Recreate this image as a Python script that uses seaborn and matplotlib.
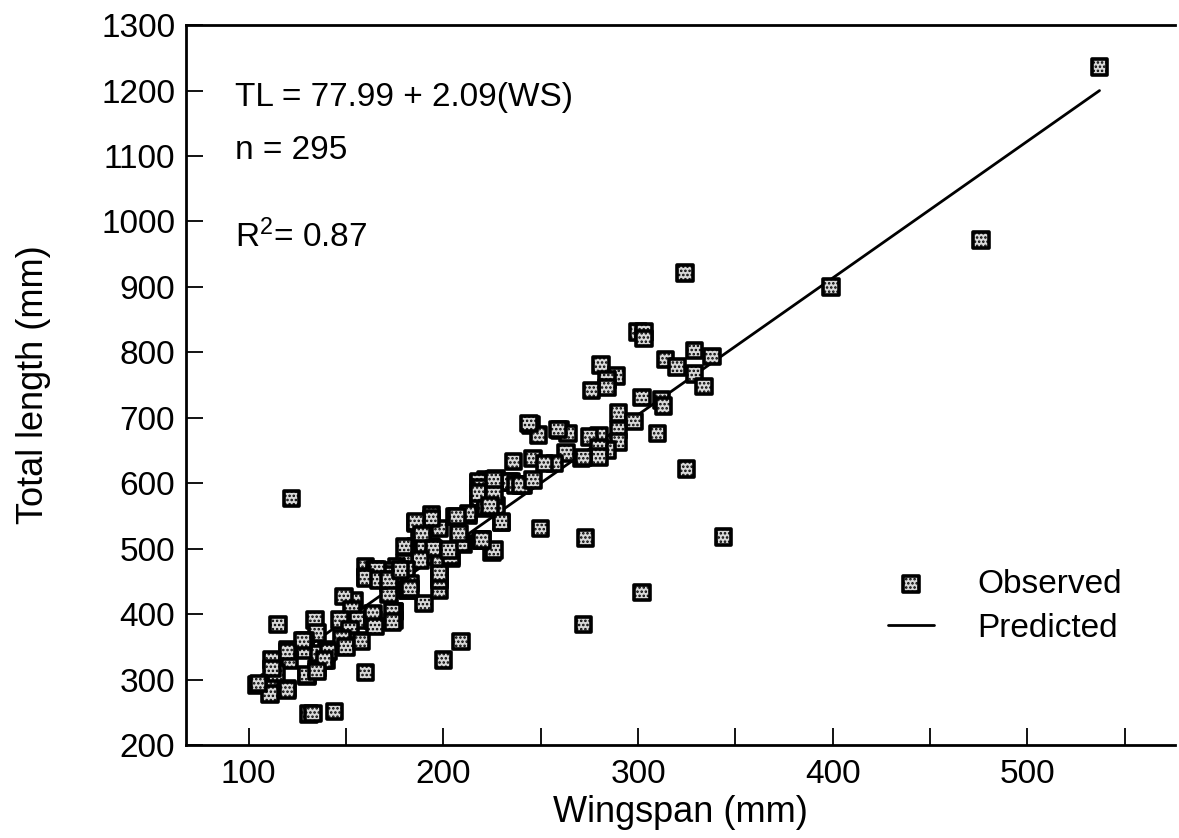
import matplotlib
matplotlib.use("Agg")
import matplotlib.pyplot as plt
from matplotlib.ticker import MultipleLocator
import pandas as pd
import seaborn as sns

## Observed wingspan / total length pairs (mm)
wingspan = [
    122, 115, 104, 111, 111, 120, 131, 144, 160, 130, 135, 140, 190, 209, 200, 175, 175, 182, 198, 198,
    190, 186, 194, 204, 210, 225, 220, 230, 236, 246, 245, 186, 188, 194, 194, 198, 206, 213, 218, 218,
    222, 227, 235, 222, 227, 160, 160, 165, 170, 154, 149, 153, 147, 156, 164, 152, 156, 148, 140, 134,
    135, 129, 129, 120, 121, 112, 114, 140, 136,
    300, 303, 303, 281, 289, 284, 284, 276, 314, 320, 329, 338, 329, 334, 302, 312, 313, 290, 298, 290,
    290, 284, 280, 275, 280, 280, 271, 263, 260, 264, 259, 249, 244, 257, 252, 310, 325, 344, 273, 250,
    302, 230, 226, 219, 234, 237, 241, 218, 219, 218, 222, 213, 207, 194, 186, 181, 194, 198, 204, 209,
    189, 198, 182,
    324, 399, 476, 537, 272, 272, 240, 246,
    226, 218, 226, 224, 208, 189, 220, 180, 190, 195, 203, 188, 180, 176, 181, 172, 170, 198, 183, 172,
    175, 172,
    166, 160, 167, 172, 178, 183, 164, 174, 174, 165, 150, 158, 141, 139, 128, 120, 112, 105, 120, 130,
    135, 133,
]
total_length = [
    577, 384, 292, 295, 278, 286, 247, 251, 311, 305, 317, 330, 416, 358, 330, 391, 404, 437, 437, 455,
    488, 503, 503, 485, 507, 494, 513, 540, 633, 638, 689, 539, 518, 544, 552, 531, 549, 551, 569, 600,
    605, 607, 602, 562, 565, 472, 457, 467, 460, 421, 427, 406, 391, 391, 391, 376, 360, 363, 345, 391,
    371, 360, 345, 345, 330, 330, 310, 340, 340,
    831, 831, 821, 781, 764, 758, 746, 742, 789, 778, 803, 794, 767, 748, 731, 727, 718, 707, 694, 681,
    663, 651, 672, 671, 654, 640, 638, 646, 681, 676, 682, 674, 691, 630, 630, 676, 622, 518, 516, 531,
    433, 541, 498, 513, 602, 597, 597, 602, 593, 577, 564, 554, 549, 546, 541, 500, 500, 478, 488, 508,
    517, 452, 437,
    921, 900, 972, 1236, 384, 639, 597, 605,
    605, 585, 582, 565, 523, 521, 513, 503, 500, 500, 498, 483, 478, 472, 467, 466, 460, 462, 447, 447,
    404, 430,
    467, 455, 452, 452, 467, 439, 401, 404, 388, 381, 350, 358, 343, 330, 360, 343, 317, 294, 284, 307,
    312, 248,
]
# predicted line endpoints (TL = 77.99 + 2.09(WS))
pred_ws = [104, 537]
pred_tl = [295, 1200]

obs = pd.DataFrame({"ws": wingspan, "tl": total_length})
pred = pd.DataFrame({"ws": pred_ws, "tl": pred_tl})

sns.set_theme(style="ticks")
plt.rcParams["font.family"] = ["Liberation Sans", "DejaVu Sans"]
plt.rcParams["mathtext.fontset"] = "custom"
plt.rcParams["mathtext.rm"] = "Liberation Sans"
plt.rcParams["mathtext.it"] = "Liberation Sans"
plt.rcParams["hatch.linewidth"] = 1.2
for key in ["text.color", "axes.labelcolor", "xtick.color", "ytick.color", "axes.edgecolor"]:
    plt.rcParams[key] = "black"

fig = plt.figure(figsize=(11.79, 8.38), dpi=100)
ax = fig.add_axes([0.158, 0.111, 0.839, 0.859])

sns.lineplot(data=pred, x="ws", y="tl", color="black", linewidth=2, ax=ax,
             label="Predicted", zorder=2)
sns.scatterplot(data=obs, x="ws", y="tl", marker="s", s=125, color="#d8d8d8",
                edgecolor="black", linewidth=2.6, hatch="....", ax=ax,
                label="Observed", zorder=3)

ax.set_xlim(68, 576)
ax.set_ylim(200, 1300)
ax.xaxis.set_major_locator(MultipleLocator(100))
ax.xaxis.set_minor_locator(MultipleLocator(50))
ax.yaxis.set_major_locator(MultipleLocator(100))
ax.tick_params(axis="both", which="both", direction="in", length=12, width=1.3,
               labelsize=24, pad=8)
ax.tick_params(axis="x", pad=10)
for side in ["left", "bottom", "top"]:
    ax.spines[side].set_linewidth(2)
ax.spines["right"].set_visible(False)

ax.set_xlabel("Wingspan (mm)", fontsize=26, labelpad=4)
ax.set_ylabel("Total length (mm)", fontsize=26, labelpad=36)

# regression annotation
ax.text(0.049, 0.899, "TL = 77.99 + 2.09(WS)", transform=ax.transAxes,
        fontsize=24, va="center")
ax.text(0.049, 0.826, "n = 295", transform=ax.transAxes, fontsize=24, va="center")
ax.text(0.049, 0.706, r"R$^{2}$= 0.87", transform=ax.transAxes, fontsize=24, va="center")

handles, labels = ax.get_legend_handles_labels()
order = [labels.index("Observed"), labels.index("Predicted")]
ax.legend([handles[i] for i in order], [labels[i] for i in order],
          loc="upper left", bbox_to_anchor=(0.709, 0.245), frameon=False,
          fontsize=24, handlelength=1.4, handletextpad=1.3, labelspacing=0.4,
          borderpad=0, borderaxespad=0)

fig.savefig("out.png", dpi=100, facecolor="white")
